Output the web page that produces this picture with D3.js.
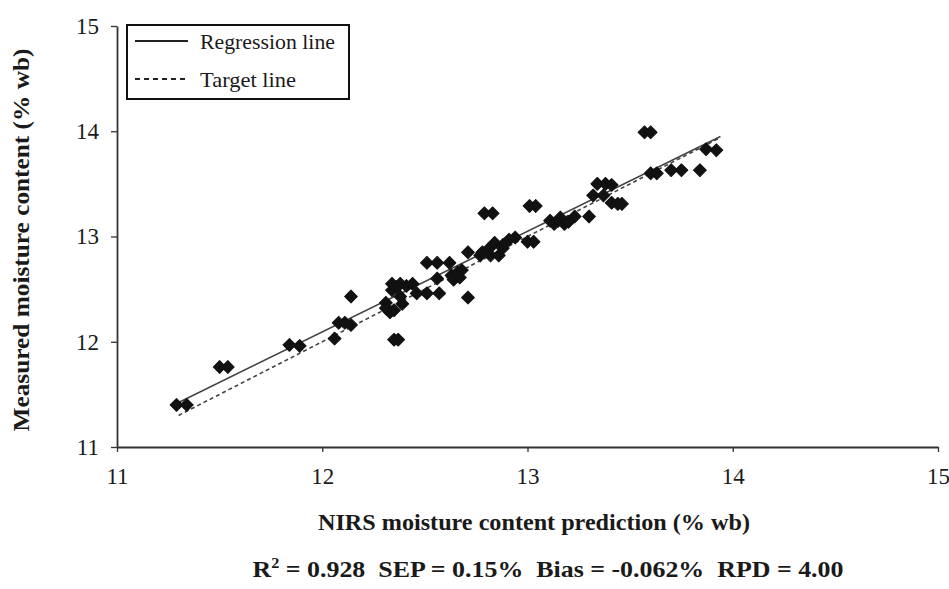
<!DOCTYPE html>
<html lang="en">
	<head>
		<meta charset="utf-8">
		<title>moisture calibration scatter</title>
		<script type="text/javascript" src="https://cdn.jsdelivr.net/npm/d3@7"></script>
		<style type="text/css">
			body { margin: 0; background: #fff; }
			text { font-family: "Liberation Serif", "Times New Roman", serif; fill: #1a1a1a; white-space: pre; }
		</style>
	</head>

	<body>
        <script type="text/javascript">

            // chart width and height
			var w = 949;
			var h = 589;

            // NIRS prediction (x) vs measured moisture (y)
            var predicted = [
                11.29, 11.34, 11.50, 11.54, 11.84, 11.89, 12.06, 12.08, 12.11, 12.14,
                12.14, 12.35, 12.37, 12.31, 12.33, 12.31, 12.35, 12.39, 12.38, 12.34,
                12.34, 12.38, 12.41, 12.44, 12.36, 12.46, 12.51, 12.57, 12.56, 12.51,
                12.56, 12.62, 12.63, 12.66, 12.68, 12.64, 12.67, 12.71, 12.71, 12.77,
                12.78, 12.81, 12.82, 12.84, 12.86, 12.88, 12.88, 12.91, 12.94, 12.79,
                12.83, 13.00, 13.03, 13.01, 13.04, 13.11, 13.13, 13.15, 13.18, 13.20,
                13.16, 13.23, 13.30, 13.32, 13.37, 13.34, 13.38, 13.41, 13.41, 13.44,
                13.46, 13.57, 13.60, 13.60, 13.63, 13.70, 13.75, 13.84, 13.87, 13.92
            ];
            var measured = [
                11.40, 11.40, 11.76, 11.76, 11.97, 11.96, 12.03, 12.18, 12.18, 12.16,
                12.43, 12.02, 12.02, 12.37, 12.28, 12.32, 12.30, 12.36, 12.43, 12.49,
                12.55, 12.55, 12.53, 12.55, 12.52, 12.46, 12.46, 12.46, 12.60, 12.75,
                12.75, 12.75, 12.63, 12.66, 12.68, 12.59, 12.61, 12.42, 12.85, 12.82,
                12.85, 12.88, 12.82, 12.94, 12.82, 12.89, 12.92, 12.97, 12.99, 13.22,
                13.22, 12.95, 12.95, 13.29, 13.29, 13.15, 13.12, 13.15, 13.12, 13.14,
                13.18, 13.19, 13.19, 13.39, 13.39, 13.50, 13.50, 13.49, 13.32, 13.31,
                13.31, 13.99, 13.99, 13.60, 13.60, 13.63, 13.63, 13.63, 13.83, 13.82
            ];

            var xTicks = [11, 12, 13, 14, 15];
            var yTicks = [11, 12, 13, 14, 15];

            // fitted line y = slope * x + intercept, and the x span both lines cover
            var regSlope = 0.957;
            var regIntercept = 0.609;
            var lineSpan = [11.30, 13.94];

            var legendNames = ["Regression line", "Target line"];
            var xTitle = "NIRS moisture content prediction (% wb)";
            var yTitle = "Measured moisture content (% wb)";

            var data = predicted.map(function(d, i) {
                return { x: d, y: measured[i] };
            });

            var xScale = d3.scaleLinear()
                .domain([11, 15])
                .range([117, 938]);

            var yScale = d3.scaleLinear()
                .domain([11, 15])
                .range([447, 26]);

            //create SVG element
            var svg = d3.select("body")
                .append("svg")
                .attr("width", w)
                .attr("height", h);

            svg.append("rect")
                .attr("width", w)
                .attr("height", h)
                .attr("fill", "#fff");

            //regression + target lines
            var line = d3.line()
                .x(function(d) { return xScale(d[0]); })
                .y(function(d) { return yScale(d[1]); });

            var regPts = lineSpan.map(function(v) { return [v, regSlope * v + regIntercept]; });
            var tgtPts = lineSpan.map(function(v) { return [v, v]; });

            svg.append("path")
                .attr("d", line(tgtPts))
                .attr("fill", "none")
                .attr("stroke", "#444")
                .attr("stroke-width", 1.6)
                .attr("stroke-dasharray", "4,3");

            svg.append("path")
                .attr("d", line(regPts))
                .attr("fill", "none")
                .attr("stroke", "#444")
                .attr("stroke-width", 1.6);

            //diamond markers
            var diamond = d3.symbol().type(d3.symbolSquare).size(82);

            svg.selectAll("path.pt")
                .data(data)
                .enter()
                .append("path")
                .attr("class", "pt")
                .attr("d", diamond)
                .attr("transform", function(d) {
                    return "translate(" + xScale(d.x) + "," + yScale(d.y) + ") rotate(45)";
                })
                .attr("fill", "#111")
                .attr("stroke", "#111")
                .attr("stroke-width", 1)
                .attr("stroke-linejoin", "round");

            //axes
            var xAxis = d3.axisBottom(xScale)
                .tickValues(xTicks)
                .tickSizeInner(5)
                .tickSizeOuter(0)
                .tickPadding(16)
                .tickFormat(d3.format("d"));

            var yAxis = d3.axisLeft(yScale)
                .tickValues(yTicks)
                .tickSizeInner(6)
                .tickSizeOuter(0)
                .tickPadding(12)
                .tickFormat(d3.format("d"));

            var gx = svg.append("g")
                .attr("transform", "translate(0," + 447 + ")")
                .call(xAxis);

            var gy = svg.append("g")
                .attr("transform", "translate(" + 117 + ",0)")
                .call(yAxis);

            [gx, gy].forEach(function(g) {
                g.select(".domain").attr("stroke", "#333").attr("stroke-width", 1.8);
                g.selectAll(".tick line").attr("stroke", "#333").attr("stroke-width", 1.3);
                g.selectAll(".tick text")
                    .attr("font-family", "Liberation Serif")
                    .attr("font-size", 23)
                    .attr("fill", "#1a1a1a");
            });

            //axis titles
            svg.append("text")
                .attr("x", 534)
                .attr("y", 530)
                .attr("text-anchor", "middle")
                .attr("font-size", 24)
                .attr("font-weight", "bold")
                .attr("textLength", 432)
                .attr("lengthAdjust", "spacingAndGlyphs")
                .text(xTitle);

            svg.append("text")
                .attr("transform", "translate(29,240) rotate(-90)")
                .attr("text-anchor", "middle")
                .attr("font-size", 24)
                .attr("font-weight", "bold")
                .attr("textLength", 383)
                .attr("lengthAdjust", "spacingAndGlyphs")
                .text(yTitle);

            //statistics line
            var stats = svg.append("text")
                .attr("x", 548)
                .attr("y", 577)
                .attr("text-anchor", "middle")
                .attr("font-size", 24)
                .attr("font-weight", "bold");
            stats.append("tspan").text("R");
            stats.append("tspan").attr("font-size", 15).attr("dy", -9).text("2");
            stats.append("tspan").attr("dy", 9).text(" = 0.928  SEP = 0.15%  Bias = -0.062%  RPD = 4.00");
            stats.attr("textLength", 591).attr("lengthAdjust", "spacingAndGlyphs");

            //legend
            var legend = svg.append("g");
            legend.append("rect")
                .attr("x", 127)
                .attr("y", 25)
                .attr("width", 222)
                .attr("height", 74)
                .attr("fill", "#fff")
                .attr("stroke", "#111")
                .attr("stroke-width", 2);

            legendNames.forEach(function(name, i) {
                var ly = 41 + i * 38;
                legend.append("line")
                    .attr("x1", 135)
                    .attr("x2", 188)
                    .attr("y1", ly)
                    .attr("y2", ly)
                    .attr("stroke", "#222")
                    .attr("stroke-width", 1.8)
                    .attr("stroke-dasharray", i == 1 ? "5,4" : null);
                legend.append("text")
                    .attr("x", 200)
                    .attr("y", ly + 8)
                    .attr("font-size", 22)
                    .attr("textLength", i == 0 ? 135 : 96)
                    .attr("lengthAdjust", "spacingAndGlyphs")
                    .text(name);
            });

        </script>
	</body>
</html>
